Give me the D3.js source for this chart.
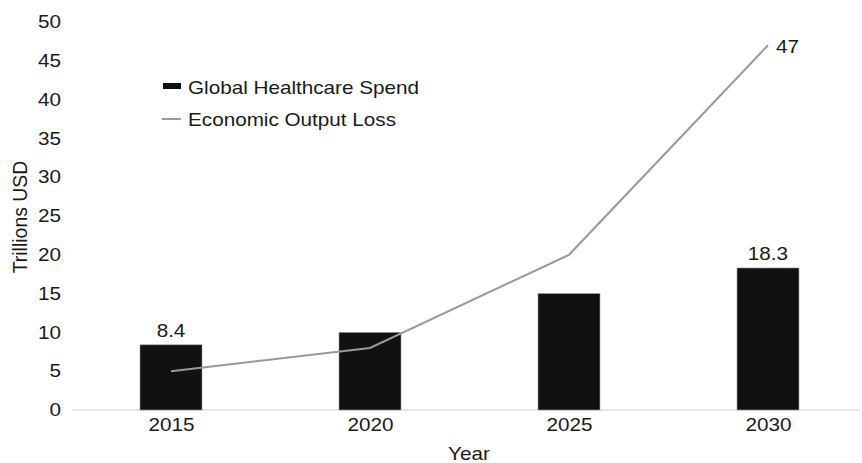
<!DOCTYPE html>
<html><head><meta charset="utf-8">
<script src="https://cdn.jsdelivr.net/npm/d3@7"></script>
<style>
html,body{margin:0;padding:0;background:#fff;}
text{font-family:"Liberation Sans",Arial,Helvetica,sans-serif;fill:#1a1a1a;}
</style></head>
<body>
<svg id="chart" width="862" height="463"></svg>
<script>
const years = ["2015","2020","2025","2030"];
const healthcareSpend = [8.4, 10, 15, 18.3];
const outputLoss = [5, 8, 20, 47];
const yTicks = [0,5,10,15,20,25,30,35,40,45,50];
const barLabels = ["8.4", null, null, "18.3"];
const lineLabels = [null, null, null, "47"];

const SX = 1.15; // horizontal glyph stretch seen in the reference
const svg = d3.select("#chart");
const y = d3.scaleLinear().domain([0,50]).range([410,22]);
const x = d3.scalePoint().domain(years).range([171,768]);
const barW = 62;

function stretchText(sel, px, py, anchor){
  // place text at (px,py) with horizontal stretch
  return sel.attr("transform",`translate(${px},${py}) scale(${SX},1)`).attr("text-anchor",anchor||"start");
}

// baseline axis line
svg.append("line").attr("x1",72).attr("x2",860).attr("y1",y(0)).attr("y2",y(0))
  .attr("stroke","#dedede").attr("stroke-width",1.5);

// y axis
const yAxis = d3.axisLeft(y).tickValues(yTicks).tickSize(0).tickPadding(0);
const gy = svg.append("g").attr("transform","translate(61,0)").call(yAxis);
gy.select(".domain").remove();
gy.selectAll("text").attr("font-size",18).attr("font-family","Liberation Sans, Arial, sans-serif")
  .attr("fill","#1a1a1a").attr("transform",`scale(${SX},1)`);

// x axis labels
const xAxis = d3.axisBottom(x).tickSize(0).tickPadding(8);
const gx = svg.append("g").attr("transform",`translate(0,${y(0)})`).call(xAxis);
gx.select(".domain").remove();
gx.selectAll("text").attr("font-size",18).attr("font-family","Liberation Sans, Arial, sans-serif")
  .attr("fill","#1a1a1a").attr("transform",`scale(${SX},1)`);

// bars
svg.selectAll("rect.bar").data(years).enter().append("rect").attr("class","bar")
  .attr("x",d=>x(d)-barW/2).attr("width",barW)
  .attr("y",(d,i)=>y(healthcareSpend[i])).attr("height",(d,i)=>y(0)-y(healthcareSpend[i]))
  .attr("fill","#111").attr("stroke","#999").attr("stroke-width",0.6);

// bar labels
years.forEach((d,i)=>{
  if(barLabels[i]!==null){
    stretchText(svg.append("text"), x(d), y(healthcareSpend[i])-8, "middle")
      .attr("font-size",18).text(barLabels[i]);
  }
});

// line
const line = d3.line().x((d,i)=>x(years[i])).y(d=>y(d));
svg.append("path").datum(outputLoss).attr("d",line)
  .attr("fill","none").attr("stroke","#9a9a9a").attr("stroke-width",2);

// line labels
years.forEach((d,i)=>{
  if(lineLabels[i]!==null){
    stretchText(svg.append("text"), x(d)+8, y(outputLoss[i])+8, "start")
      .attr("font-size",18).text(lineLabels[i]);
  }
});

// legend
const lg = svg.append("g");
lg.append("rect").attr("x",163).attr("y",83).attr("width",18).attr("height",6).attr("fill","#111");
stretchText(lg.append("text"),188,94,"start").attr("font-size",18).text("Global Healthcare Spend");
lg.append("line").attr("x1",162).attr("x2",181).attr("y1",119).attr("y2",119).attr("stroke","#9a9a9a").attr("stroke-width",2);
stretchText(lg.append("text"),188,126,"start").attr("font-size",18).text("Economic Output Loss");

// axis titles
svg.append("text").attr("transform","translate(27,217) rotate(-90) scale(1.08,1.12)").attr("text-anchor","middle")
  .attr("font-size",18).text("Trillions USD");
stretchText(svg.append("text"),469,460,"middle").attr("font-size",18).text("Year");
</script>
</body></html>
